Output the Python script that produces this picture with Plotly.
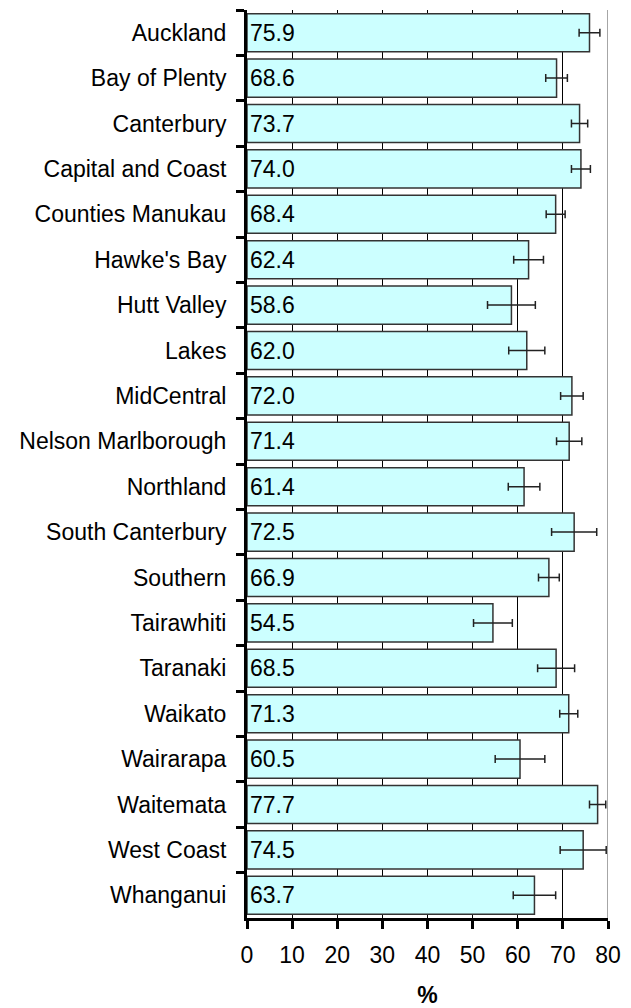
import plotly.graph_objects as go

regions = ["Auckland", "Bay of Plenty", "Canterbury", "Capital and Coast",
           "Counties Manukau", "Hawke's Bay", "Hutt Valley", "Lakes",
           "MidCentral", "Nelson Marlborough", "Northland", "South Canterbury",
           "Southern", "Tairawhiti", "Taranaki", "Waikato", "Wairarapa",
           "Waitemata", "West Coast", "Whanganui"]
values = [75.9, 68.6, 73.7, 74.0, 68.4, 62.4, 58.6, 62.0, 72.0, 71.4,
          61.4, 72.5, 66.9, 54.5, 68.5, 71.3, 60.5, 77.7, 74.5, 63.7]
ci_half = [2.3, 2.4, 1.8, 2.1, 2.1, 3.3, 5.3, 4.0, 2.5, 2.8,
           3.5, 5.0, 2.3, 4.3, 4.1, 2.0, 5.5, 1.8, 5.1, 4.7]
x_ticks = [0, 10, 20, 30, 40, 50, 60, 70, 80]

FONT = "Liberation Sans, Arial, sans-serif"

fig = go.Figure()
fig.add_trace(go.Bar(
    y=regions, x=values, orientation="h",
    marker=dict(color="#CCFFFF", line=dict(color="#333333", width=1.5)),
    text=[f"{v:.1f}" for v in values],
    textposition="inside", insidetextanchor="start",
    textfont=dict(family=FONT, size=23, color="black"),
    error_x=dict(type="data", array=ci_half, visible=True,
                 color="#222222", thickness=1.5, width=4),
    showlegend=False,
))

fig.add_shape(type="line", xref="x", yref="paper", x0=80, x1=80, y0=0, y1=1,
              line=dict(color="#888888", width=1.5), layer="below")

# page body has an 8px margin, so the figure is 8px smaller and offsets shifted
fig.update_layout(
    width=623, height=1000,
    margin=dict(l=239, r=23, t=2, b=90),
    plot_bgcolor="white", paper_bgcolor="white",
    bargap=0.16,
    font=dict(family=FONT, size=23, color="black"),
    uniformtext=dict(mode=False),
)
fig.update_xaxes(
    range=[0, 80], tickvals=x_ticks, ticktext=[str(t) for t in x_ticks],
    showgrid=True, gridcolor="black", gridwidth=1,
    showline=True, linecolor="black", linewidth=3,
    ticks="outside", ticklen=8, tickwidth=3, tickcolor="black",
    tickfont=dict(family=FONT, size=23), ticklabelstandoff=6,
    title=dict(text="<b>%</b>", font=dict(family=FONT, size=23), standoff=24),
    zeroline=False, automargin=False,
)
fig.update_yaxes(
    autorange="reversed", type="category",
    showline=True, linecolor="black", linewidth=3,
    ticks="outside", tickson="boundaries", ticklen=8, tickwidth=3, tickcolor="black",
    tickfont=dict(family=FONT, size=23), ticklabelstandoff=13,
    showgrid=False, zeroline=False, automargin=False,
)

fig.write_html("out.html")
